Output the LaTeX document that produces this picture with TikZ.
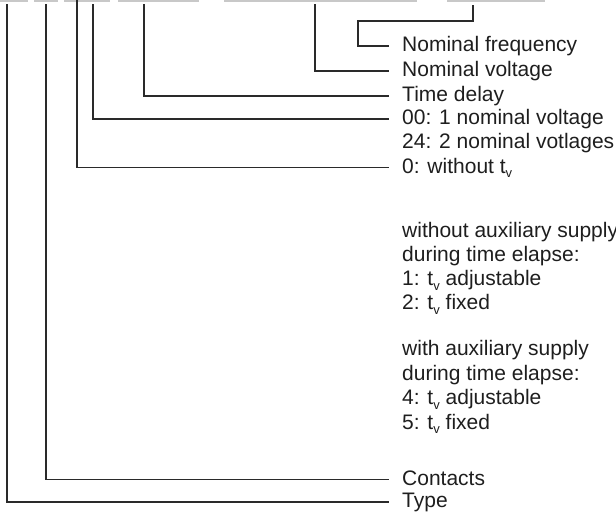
\documentclass[tikz,border=0pt]{standalone}
\usepackage{fontspec}
\setmainfont{Liberation Sans}
\definecolor{ink}{HTML}{2A2A2A}
\definecolor{txt}{HTML}{1E1E1E}
\definecolor{barc}{HTML}{C8C8C8}
\newcommand\tvsub{t\raisebox{-4.5pt}{\fontsize{13}{13}\selectfont v}}
\begin{document}
\begin{tikzpicture}[x=1pt,y=-1pt,
  lead/.style={draw=ink, line width=1.1pt},
  lbl/.style={anchor=base west, inner sep=0pt, font=\fontsize{21}{23}\selectfont, text=txt},
  topbar/.style={draw=barc, line width=1.6pt}]
\useasboundingbox (0,0) rectangle (616,514);
% top bars (cut-off code blocks)
\draw[topbar] (0,0.8) -- (28,0.8);
\draw[topbar] (34,0.8) -- (58,0.8);
\draw[topbar] (64,0.8) -- (110,0.8);
\draw[topbar] (118,0.8) -- (199,0.8);
\draw[topbar] (224,0.8) -- (417,0.8);
\draw[topbar] (447,0.8) -- (545,0.8);
% line tops
\coordinate (tType) at (7,4);
\coordinate (tCon) at (46,4);
\coordinate (tTv) at (77,0);
\coordinate (tNum) at (93,4);
\coordinate (tTD) at (144,4);
\coordinate (tNV) at (315,4);
\coordinate (tNF) at (473,5);
\coordinate (kNF) at (358,21);
% leader ends
\coordinate (eNF) at (389,46);
\coordinate (eNV) at (389,71);
\coordinate (eTD) at (389,96);
\coordinate (eNum) at (389,119);
\coordinate (eTv) at (389,167.5);
\coordinate (eCon) at (389,479.5);
\coordinate (eType) at (389,502);
% labels
\node[lbl] (lNF) at (402,51.5) {Nominal frequency};
\node[lbl] (lNV) at (402,76.5) {Nominal voltage};
\node[lbl] (lTD) at (402,101.5) {Time delay};
\node[lbl] (lN1) at (402,124.5) {00: 1 nominal voltage};
\node[lbl] (lN2) at (402,148.5) {24: 2 nominal votlages};
\node[lbl] (lT0) at (402,173) {0: without \tvsub};
\node[lbl] (lA1) at (402,237.5) {without auxiliary supply};
\node[lbl] (lA2) at (402,261.5) {during time elapse:};
\node[lbl] (lA3) at (402,285.5) {1: \tvsub{} adjustable};
\node[lbl] (lA4) at (402,309.5) {2: \tvsub{} fixed};
\node[lbl] (lB1) at (402,355.5) {with auxiliary supply};
\node[lbl] (lB2) at (402,380) {during time elapse:};
\node[lbl] (lB3) at (402,404.5) {4: \tvsub{} adjustable};
\node[lbl] (lB4) at (402,429) {5: \tvsub{} fixed};
\node[lbl] (lCon) at (402,485) {Contacts};
\node[lbl] (lType) at (402,507.5) {Type};
% connectors
\draw[lead] (tNF) |- (kNF) |- (eNF);
\draw[lead] (tNV) |- (eNV);
\draw[lead] (tTD) |- (eTD);
\draw[lead] (tNum) |- (eNum);
\draw[lead] (tTv) |- (eTv);
\draw[lead] (tCon) |- (eCon);
\draw[lead] (tType) |- (eType);
\end{tikzpicture}
\end{document}
